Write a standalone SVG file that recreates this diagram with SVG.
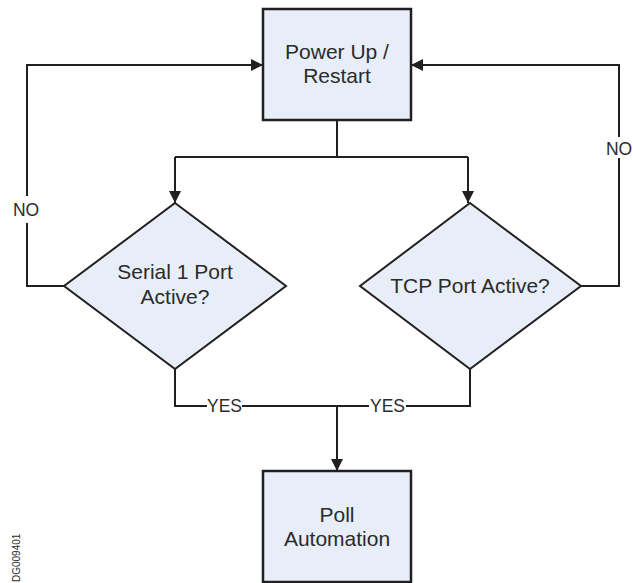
<svg xmlns="http://www.w3.org/2000/svg" width="633" height="583" viewBox="0 0 633 583">
<style>
.node{fill:#e8eef8;stroke:#231f20;stroke-width:2.5}
.dia{fill:#e8eef8;stroke:#231f20;stroke-width:2}
.c{fill:none;stroke:#231f20;stroke-width:2}
.t{font-family:"Liberation Sans",Arial,sans-serif;font-size:21px;fill:#2b2b2b;text-anchor:middle}
.l{font-family:"Liberation Sans",Arial,sans-serif;font-size:17.5px;fill:#2b2b2b;text-anchor:middle}
</style>
<defs>
<marker id="ah" markerWidth="12" markerHeight="12" viewBox="0 0 12 12" refX="12" refY="6" orient="auto" markerUnits="userSpaceOnUse">
<path d="M0,0 L12,6 L0,12 Z" fill="#231f20"/>
</marker>
</defs>
<rect width="633" height="583" fill="#ffffff"/>
<g id="connectors">
<path class="c" d="M337,120 V157 M175,157 H468"/>
<path class="c" d="M175,157 V203" marker-end="url(#ah)"/>
<path class="c" d="M468,157 V203" marker-end="url(#ah)"/>
<path class="c" d="M64,286 H27 V223 M27,196 V65 H263" marker-end="url(#ah)"/>
<path class="c" d="M581,286 H619 V158 M619,137 V65 H411" marker-end="url(#ah)"/>
<path class="c" d="M175,369 V406 H207 M242,406 H369 M406,406 H470 V369"/>
<path class="c" d="M337,406 V471" marker-end="url(#ah)"/>
<text class="l" x="26" y="216">NO</text>
<text class="l" x="619" y="155">NO</text>
<text class="l" x="224.5" y="412">YES</text>
<text class="l" x="387.5" y="412">YES</text>
</g>
<g id="power-up">
<rect class="node" x="263" y="9" width="148" height="111"/>
<text class="t" x="337" y="59">Power Up /</text>
<text class="t" x="337" y="83">Restart</text>
</g>
<g id="serial-port">
<polygon class="dia" points="175,203 286,286 175,369 64,286"/>
<text class="t" x="175" y="279">Serial 1 Port</text>
<text class="t" x="175" y="304">Active?</text>
</g>
<g id="tcp-port">
<polygon class="dia" points="470,203 581,286 470,369 360,286"/>
<text class="t" x="470" y="293">TCP Port Active?</text>
</g>
<g id="poll-automation">
<rect class="node" x="263" y="471" width="148" height="111"/>
<text class="t" x="337" y="522">Poll</text>
<text class="t" x="337" y="546">Automation</text>
</g>
<text x="20" y="582" transform="rotate(-90 20 582)" font-family="'Liberation Sans',Arial,sans-serif" font-size="10" fill="#2b2b2b">DG009401</text>
</svg>
